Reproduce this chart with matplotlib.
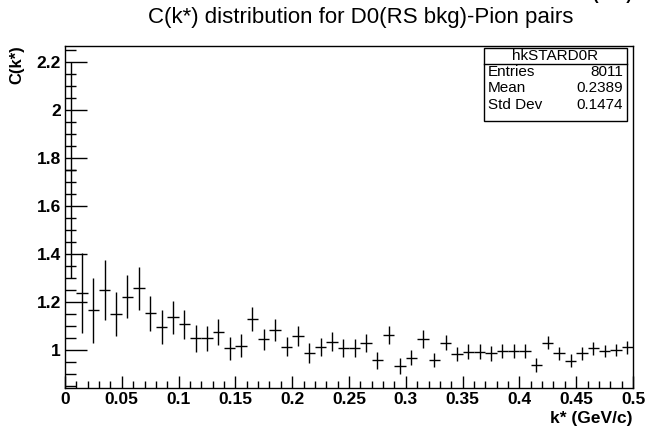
import numpy as np
import matplotlib
matplotlib.use("Agg")
import matplotlib.pyplot as plt
from matplotlib.ticker import MultipleLocator, FuncFormatter
from matplotlib.patches import Rectangle
from matplotlib.lines import Line2D

# histogram hkSTARD0R : 50 bins from 0 to 0.5 GeV/c
bin_edges = np.linspace(0, 0.5, 51)
c_values = [1.75, 1.237, 1.165, 1.249, 1.15, 1.222, 1.257, 1.153, 1.097, 1.136,
            1.107, 1.049, 1.049, 1.076, 1.007, 1.018, 1.129, 1.045, 1.083, 1.014,
            1.058, 0.989, 1.014, 1.035, 1.007, 1.007, 1.031, 0.958, 1.062, 0.933,
            0.969, 1.045, 0.958, 1.031, 0.983, 0.993, 0.993, 0.986, 0.997, 0.997,
            0.997, 0.937, 1.031, 0.986, 0.955, 0.986, 1.007, 0.997, 1.0, 1.011]
c_errors = [0.45, 0.167, 0.135, 0.125, 0.092, 0.09, 0.09, 0.074, 0.07, 0.067,
            0.062, 0.056, 0.052, 0.053, 0.047, 0.047, 0.049, 0.044, 0.045, 0.04,
            0.043, 0.042, 0.038, 0.04, 0.0375, 0.0375, 0.038, 0.035, 0.0375, 0.033,
            0.033, 0.037, 0.03, 0.031, 0.03, 0.032, 0.031, 0.03, 0.03, 0.03,
            0.029, 0.028, 0.028, 0.028, 0.027, 0.027, 0.027, 0.026, 0.026, 0.026]

stats_labels = ["Entries", "Mean", "Std Dev"]
stats_values = ["8011", "0.2389", "0.1474"]

plt.rcParams['font.family'] = ['Liberation Sans', 'DejaVu Sans']

W, H = 647, 428
fig = plt.figure(figsize=(W / 100, H / 100), dpi=100)
ax = fig.add_axes([65 / W, 1 - 388 / H, (633 - 65) / W, (388 - 46) / H])

centers = 0.5 * (bin_edges[:-1] + bin_edges[1:])
half_w = 0.5 * np.diff(bin_edges)
ax.errorbar(centers, c_values, yerr=c_errors, xerr=half_w, fmt='none',
            ecolor='black', elinewidth=1.0, capsize=0)

ax.set_xlim(0, 0.5)
ax.set_ylim(0.842, 2.267)

ax.xaxis.set_major_locator(MultipleLocator(0.05))
ax.xaxis.set_minor_locator(MultipleLocator(0.01))
ax.yaxis.set_major_locator(MultipleLocator(0.2))
ax.yaxis.set_minor_locator(MultipleLocator(0.05))
fmt = FuncFormatter(lambda v, p: '%g' % round(v, 3))
ax.xaxis.set_major_formatter(fmt)
ax.yaxis.set_major_formatter(fmt)

ax.tick_params(axis='x', which='major', direction='in', length=9, width=1, pad=3)
ax.tick_params(axis='x', which='minor', direction='in', length=5, width=1)
ax.tick_params(axis='y', which='major', direction='in', length=16, width=1, pad=3)
ax.tick_params(axis='y', which='minor', direction='in', length=8, width=1)
for lab in ax.get_xticklabels() + ax.get_yticklabels():
    lab.set_fontweight('bold')
    lab.set_fontsize(12.5)
for s in ax.spines.values():
    s.set_linewidth(1)

fig.text(632 / W, 1 - 418 / H, "k* (GeV/c)", ha='right', va='center',
         fontsize=12.5, fontweight='bold')
fig.text(17 / W, 1 - 45 / H, "C(k*)", ha='center', va='top', rotation=90,
         fontsize=12, fontweight='bold')

fig.text(361 / W, 1 - 18 / H, "C(k*) distribution for D0(RS bkg)-Pion pairs",
         ha='center', va='center', fontsize=16)
# text cut at the top edge of the canvas
fig.text(612 / W, 1 - 3 / H, "(a.u.)", ha='center', va='bottom',
         fontsize=12, fontweight='bold')

# stats box
bx0, bx1, by0, by1 = 484, 627, 48, 121
fig.patches.append(Rectangle((bx0 / W, 1 - by1 / H), (bx1 - bx0) / W, (by1 - by0) / H,
                             transform=fig.transFigure, facecolor='white',
                             edgecolor='black', linewidth=1, zorder=5))
fig.lines.append(Line2D([bx0 / W, bx1 / W], [1 - 64 / H, 1 - 64 / H],
                        transform=fig.transFigure, color='black', linewidth=1, zorder=6))
fig.text((bx0 + bx1) / 2 / W, 1 - 56 / H, "hkSTARD0R", ha='center', va='center',
         fontsize=11, zorder=7)
rows_y = [72, 88, 105]
for lab, val, yy in zip(stats_labels, stats_values, rows_y):
    fig.text(488 / W, 1 - yy / H, lab, ha='left', va='center', fontsize=11, zorder=7)
    fig.text(623 / W, 1 - yy / H, val, ha='right', va='center', fontsize=11, zorder=7)

fig.savefig("out.png", dpi=100)
